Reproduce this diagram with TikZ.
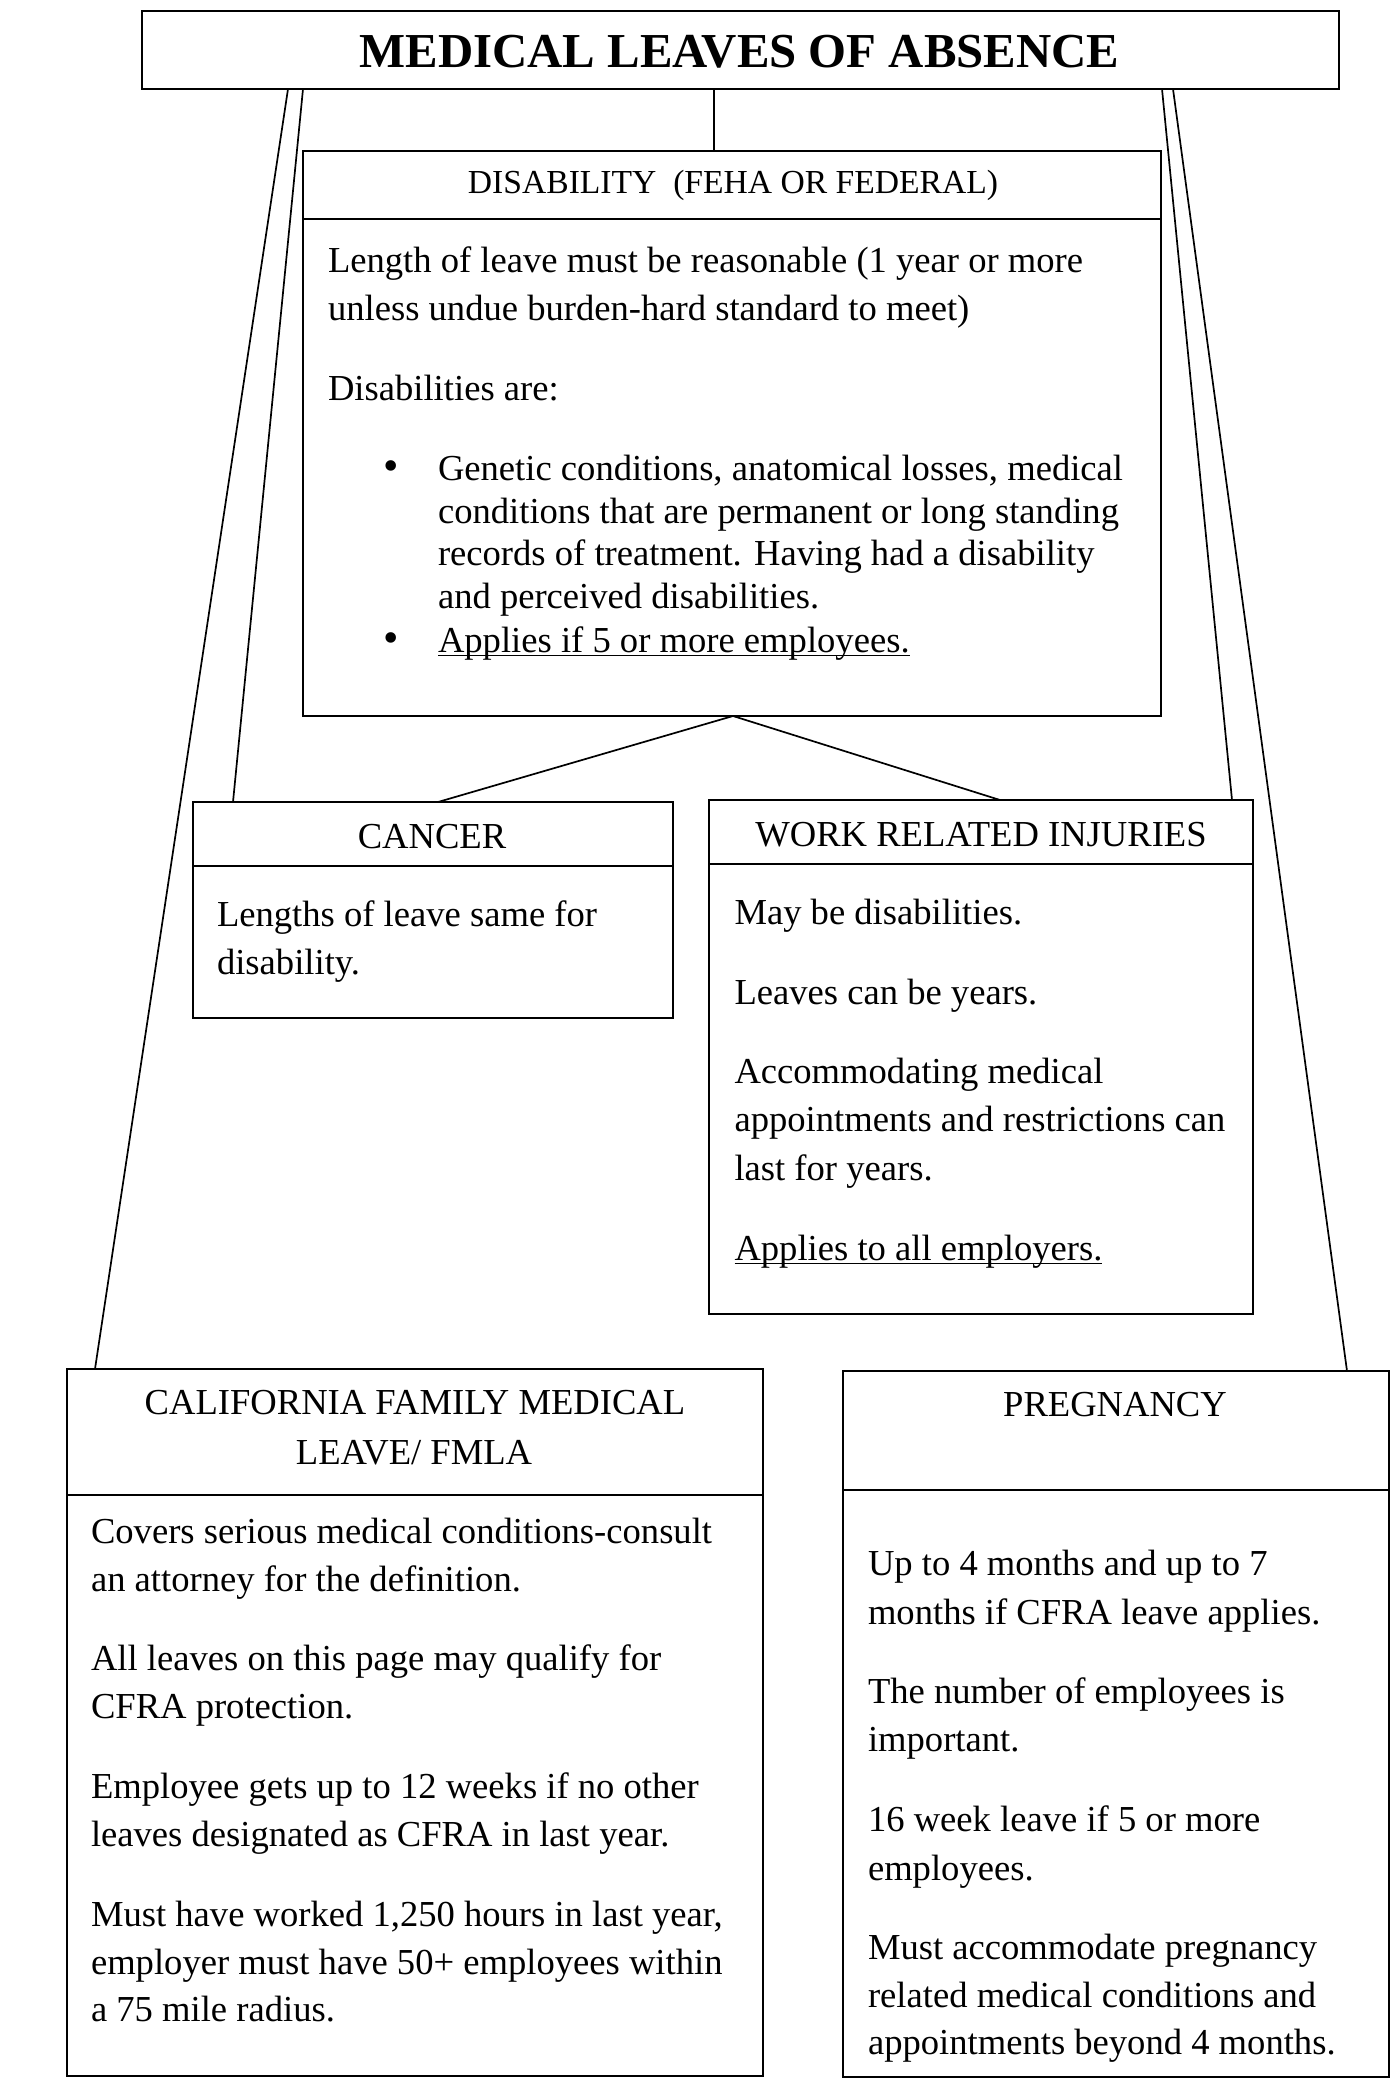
\documentclass[tikz,border=0pt]{standalone}
\usepackage{fontspec}
\setmainfont{Liberation Serif}
\usetikzlibrary{calc}
\newcommand{\myul}[1]{\setbox0\hbox{#1}\rlap{\rule[-2.2pt]{\wd0}{0.8pt}}\box0}
\begin{document}
\begin{tikzpicture}[x=0.5pt,y=-0.5pt,
  box/.style={draw, line width=1pt, rectangle, inner sep=0pt, outer sep=0pt},
  sepline/.style={line width=1pt},
  conn/.style={line width=0.85pt},
  txt/.style={anchor=base west, inner sep=0pt, outer sep=0pt, font=\fontsize{18.3}{22}\selectfont},
  hdr/.style={anchor=base, inner sep=0pt, outer sep=0pt, font=\fontsize{18.3}{22}\selectfont},
  bul/.style={anchor=base, inner sep=0pt, outer sep=0pt, font=\fontsize{22}{22}\selectfont}]
\useasboundingbox (0,0) rectangle (1400,2087);
\fill[white] (0,0) rectangle (1400,2087);

% boxes
\node[box, line width=1.1pt, minimum width=598.5pt, minimum height=39pt] (title) at (740.5,50) {};
\node[box, minimum width=429pt, minimum height=282.5pt] (dis) at (732,433.5) {};
\node[box, minimum width=240pt, minimum height=108pt] (can) at (433,910) {};
\node[box, minimum width=272pt, minimum height=257pt] (work) at (981,1057) {};
\node[box, minimum width=348pt, minimum height=353.5pt] (cfml) at (415,1722.5) {};
\node[box, minimum width=273pt, minimum height=353pt] (preg) at (1116,1724) {};

% header separators
\draw[sepline] (dis.west |- 0,219) -- (dis.east |- 0,219);
\draw[sepline] (can.west |- 0,866) -- (can.east |- 0,866);
\draw[sepline] (work.west |- 0,864) -- (work.east |- 0,864);
\draw[sepline] (cfml.west |- 0,1495) -- (cfml.east |- 0,1495);
\draw[sepline] (preg.west |- 0,1490) -- (preg.east |- 0,1490);

% connector end points
\coordinate (tC) at ($(title.south west)+(572,0)$);
\coordinate (tL1) at ($(title.south west)+(146,0)$);
\coordinate (tL2) at ($(title.south west)+(161,0)$);
\coordinate (tR2) at ($(title.south west)+(1020,0)$);
\coordinate (tR1) at ($(title.south west)+(1031,0)$);
\coordinate (dB) at ($(dis.south west)+(430,0)$);
\coordinate (canT) at ($(can.north west)+(245,0)$);
\coordinate (canTL) at ($(can.north west)+(40,0)$);
\coordinate (workT) at ($(work.north west)+(291,0)$);
\coordinate (workTR) at ($(work.north west)+(523,0)$);
\coordinate (cfmlT) at ($(cfml.north west)+(28,0)$);
\coordinate (pregT) at ($(preg.north west)+(504,0)$);

\draw[conn] (tC) -- (tC |- dis.north);
\draw[conn] (tL1) -- (cfmlT);
\draw[conn] (tL2) -- (canTL);
\draw[conn] (tR2) -- (workTR);
\draw[conn] (tR1) -- (pregT);
\draw[conn] (dB) -- (canT);
\draw[conn] (dB) -- (workT);

% title
\node[anchor=base, inner sep=0pt, font=\fontsize{24.4}{28}\selectfont\bfseries] (tt) at (739.5,68) {MEDICAL LEAVES OF ABSENCE};

% disability
\node[hdr, font=\fontsize{16.8}{20}\selectfont] (dh) at (733,193) {DISABILITY\ \ (FEHA OR FEDERAL)};
\node[txt] (d1) at (328,272) {Length of leave must be reasonable (1 year or more};
\node[txt] (d2) at (328,320) {unless undue burden-hard standard to meet)};
\node[txt] (d3) at (328,400) {Disabilities are:};
\node[bul] (b1) at (391,480) {\textbullet};
\node[txt] (d4) at (438,480) {Genetic conditions, anatomical losses, medical};
\node[txt] (d5) at (438,523) {conditions that are permanent or long standing};
\node[txt] (d6) at (438,565) {records of treatment. Having had a disability};
\node[txt] (d7) at (438,608) {and perceived disabilities.};
\node[bul] (b2) at (391,652) {\textbullet};
\node[txt] (d8) at (438,652) {\myul{Applies if 5 or more employees.}};

% cancer
\node[hdr] (ch) at (432,848) {CANCER};
\node[txt] (c1) at (217,926) {Lengths of leave same for};
\node[txt] (c2) at (217,974) {disability.};

% work related
\node[hdr] (wh) at (981,846) {WORK RELATED INJURIES};
\node[txt] (w1) at (734.5,924) {May be disabilities.};
\node[txt] (w2) at (734.5,1004) {Leaves can be years.};
\node[txt] (w3) at (734.5,1083.5) {Accommodating medical};
\node[txt] (w4) at (734.5,1131) {appointments and restrictions can};
\node[txt] (w5) at (734.5,1180) {last for years.};
\node[txt] (w6) at (734.5,1260) {\myul{Applies to all employers.}};

% CFML
\node[hdr] (fh1) at (415,1414.5) {CALIFORNIA FAMILY MEDICAL};
\node[hdr] (fh2) at (414,1464) {LEAVE/ FMLA};
\node[txt] (f1) at (91,1543.5) {Covers serious medical conditions-consult};
\node[txt] (f2) at (91,1591) {an attorney for the definition.};
\node[txt] (f3) at (91,1670.5) {All leaves on this page may qualify for};
\node[txt] (f4) at (91,1718) {CFRA protection.};
\node[txt] (f5) at (91,1798.5) {Employee gets up to 12 weeks if no other};
\node[txt] (f6) at (91,1846) {leaves designated as CFRA in last year.};
\node[txt] (f7) at (91,1926) {Must have worked 1,250 hours in last year,};
\node[txt] (f8) at (91,1974) {employer must have 50+ employees within};
\node[txt] (f9) at (91,2021) {a 75 mile radius.};

% pregnancy
\node[hdr] (ph) at (1115,1416.5) {PREGNANCY};
\node[txt] (p1) at (868,1575) {Up to 4 months and up to 7};
\node[txt] (p2) at (868,1624) {months if CFRA leave applies.};
\node[txt] (p3) at (868,1703) {The number of employees is};
\node[txt] (p4) at (868,1751) {important.};
\node[txt] (p5) at (868,1831) {16 week leave if 5 or more};
\node[txt] (p6) at (868,1880) {employees.};
\node[txt] (p7) at (868,1959) {Must accommodate pregnancy};
\node[txt] (p8) at (868,2007) {related medical conditions and};
\node[txt] (p9) at (868,2054.5) {appointments beyond 4 months.};
\end{tikzpicture}
\end{document}
